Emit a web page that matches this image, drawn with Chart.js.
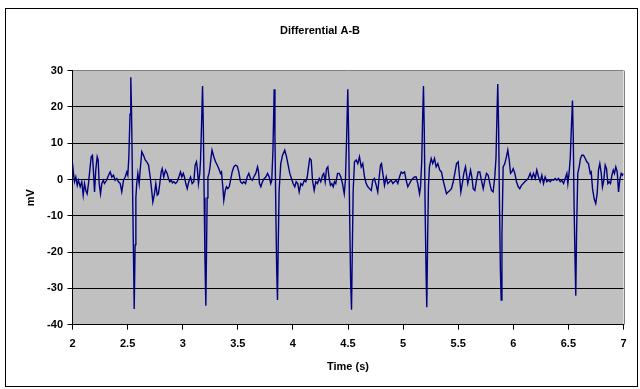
<!DOCTYPE html>
<html>
<head>
<meta charset="utf-8">
<script src="https://cdn.jsdelivr.net/npm/chart.js@4.4.1/dist/chart.umd.min.js"></script>
<style>
  html, body { margin: 0; padding: 0; background: #ffffff; }
  #wrap { width: 640px; height: 389px; position: relative; }
</style>
</head>
<body>
<div id="wrap"><canvas id="c" width="640" height="389"></canvas></div>
<script>
const chartTitle = 'Differential A-B';
const xTitle = 'Time (s)';
const yTitle = 'mV';
const xTicks = [2, 2.5, 3, 3.5, 4, 4.5, 5, 5.5, 6, 6.5, 7];
const yTicks = [-40, -30, -20, -10, 0, 10, 20, 30];

const timeS = [
  2.000,2.009,2.018,2.030,2.043,2.054,2.070,2.084,2.097,2.109,
  2.121,2.133,2.145,2.157,2.170,2.181,2.191,2.200,2.211,2.224,
  2.233,2.242,2.254,2.266,2.279,2.290,2.309,2.327,2.342,2.357,
  2.372,2.387,2.402,2.417,2.433,2.447,2.463,2.478,2.493,2.502,
  2.511,2.522,2.529,2.535,2.544,2.554,2.560,2.568,2.575,2.583,
  2.593,2.605,2.614,2.629,2.644,2.660,2.674,2.690,2.705,2.720,
  2.729,2.744,2.756,2.769,2.780,2.792,2.805,2.814,2.828,2.844,
  2.859,2.871,2.883,2.896,2.907,2.919,2.935,2.950,2.965,2.980,
  2.992,3.005,3.016,3.028,3.041,3.055,3.071,3.086,3.101,3.113,
  3.125,3.134,3.143,3.155,3.162,
  3.171,3.180,3.187,3.195,3.202,3.210,3.216,3.222,3.229,3.239,
  3.248,3.257,3.266,3.282,3.298,3.313,3.328,3.343,3.352,3.364,
  3.373,3.386,3.397,3.409,3.422,3.434,3.449,3.464,3.479,3.495,
  3.509,3.524,3.540,3.554,3.570,3.585,3.600,3.615,3.631,3.645,
  3.663,3.679,3.688,3.697,3.709,3.724,3.740,3.754,3.770,3.785,
  3.799,3.808,
  3.819,3.830,3.837,3.845,3.853,3.860,3.867,3.875,3.890,3.906,
  3.926,3.942,3.957,3.972,3.987,4.002,4.017,4.030,4.044,4.057,
  4.072,4.087,4.103,4.117,4.130,4.142,4.153,4.166,4.178,4.193,
  4.208,4.223,4.239,4.253,4.269,4.280,4.293,4.305,4.317,4.329,
  4.341,4.353,4.366,4.377,4.389,4.405,4.420,4.435,4.450,4.466,
  4.477,4.488,4.498,4.506,4.515,4.524,4.532,4.539,4.547,4.559,
  4.574,4.589,4.604,4.620,4.634,4.650,4.665,4.680,4.695,4.711,
  4.725,4.740,4.756,4.770,4.783,4.795,4.804,4.816,4.831,4.847,
  4.861,4.877,4.892,4.907,4.922,4.937,4.952,4.967,4.983,4.997,
  5.013,5.028,5.043,5.058,5.074,5.088,5.103,5.119,5.133,5.149,
  5.158,
  5.169,5.178,5.185,5.192,5.200,5.208,5.215,5.222,5.230,5.239,
  5.255,5.269,5.285,5.300,5.315,5.333,5.348,5.363,5.378,5.394,
  5.409,5.424,5.439,5.455,5.469,5.485,5.500,5.515,5.524,5.537,
  5.551,5.566,5.575,5.587,5.600,5.612,5.624,5.636,5.651,5.666,
  5.681,5.696,5.711,5.727,5.741,5.757,5.772,5.787,5.802,5.817,
  5.832,
  5.843,5.852,5.859,5.867,5.875,5.883,5.890,5.897,5.908,5.923,
  5.938,5.950,5.963,5.975,5.986,5.999,6.014,6.029,6.045,6.059,
  6.074,6.090,6.104,6.120,6.135,6.153,6.168,6.183,6.199,6.213,
  6.229,6.244,6.259,6.274,6.289,6.304,6.319,6.335,6.349,6.365,
  6.380,6.395,6.410,6.426,6.440,6.456,6.471,6.486,6.495,6.507,
  6.517,6.528,6.537,6.544,6.552,6.560,6.567,6.574,6.585,6.598,
  6.610,6.622,6.637,6.653,6.667,6.682,6.698,6.707,6.719,6.734,
  6.748,6.761,6.773,6.785,6.798,6.809,6.821,6.834,6.846,6.858,
  6.870,6.882,6.895,6.907,6.918,6.930,6.943,6.955,6.966,6.979,
  6.991,7.000
];

const mV = [
  4.4,1.7,-0.6,0.7,-1.6,-0.2,-2.0,-0.6,-4.3,-1.1,
  -3.0,-3.9,-1.1,2.6,6.3,6.7,1.7,-3.4,2.6,6.3,
  5.4,-1.1,-3.9,-1.1,-0.2,-1.1,-0.2,1.2,2.1,0.7,
  1.2,-0.2,0.3,-0.6,-1.1,-3.4,-0.2,0.7,2.1,1.2,
  6,18,28.2,20,0,-22,-35.7,-18,-5,-1.1,
  1.7,-1.1,2.6,7.7,6.7,5.4,4.9,4.0,0.7,-3.4,
  -6.2,-3.9,-1.1,-4.3,-3.9,-1.1,2.1,3.0,0.7,2.6,
  1.7,0.3,-0.6,-0.2,-0.9,-0.6,-1.1,-0.6,0.7,2.1,
  0.7,1.7,0.7,-1.1,-2.5,-0.6,0.7,-1.1,-0.6,4.0,
  4.9,2.6,-1.1,1.7,5.4,
  15,25.8,15,-5,-22,-34.8,-20,-5,0.7,1.7,
  3.5,6,8.1,6.3,4.9,4.0,3.0,1.7,2.1,-2.0,
  -5.7,-3.0,-2.0,-2.5,-2.0,-0.2,2.1,3.5,4.0,3.7,
  2.1,-0.6,-1.1,-0.6,-1.1,0.7,1.7,0.3,-0.2,0.7,
  1.7,3.5,2.1,-1.1,-2.0,-0.6,0.3,0.7,1.7,0.7,
  -1.1,-0.2,
  8,24.9,12,-8,-25,-33.2,-18,-3,4.4,6.7,
  8.1,6.3,4.0,1.7,0.3,-1.1,-2.0,-0.6,-1.1,-3.4,
  -1.1,-1.6,-0.2,-0.6,0.7,3.5,5.8,5.4,-0.2,-3.0,
  -0.6,-1.1,0.3,-0.6,1.2,1.7,-0.6,3.0,3.5,0.3,
  -1.6,-1.1,-2.0,-0.6,-1.1,1.7,1.7,0.7,-1.1,-3.9,
  0,12,24.9,12,-10,-28,-35.9,-20,-3,4.9,
  5.4,4.4,6.3,3.5,4.4,0.7,-1.1,-2.0,-2.5,-3.0,
  -0.2,0.3,-1.6,-3.4,0.7,4.0,4.4,1.7,-1.6,0.7,
  -1.1,-0.6,-0.2,-1.1,-0.6,-0.2,-1.1,0.7,2.1,1.7,
  2.1,-0.2,-2.0,-1.1,-0.2,0.3,0.7,0.7,-1.1,-3.9,
  -2.0,
  5,18,25.8,14,-8,-25,-35.2,-18,-2,3.5,
  5.8,4.4,5.8,3.5,4.4,2.6,2.1,-0.2,-2.0,-3.9,
  -3.4,-3.0,-2.5,-0.6,1.7,4.4,4.9,-0.2,-3.4,-1.1,
  1.7,3.5,1.7,-1.1,0.7,2.6,0.7,-2.5,-3.0,-0.2,
  2.1,2.1,-0.2,-2.5,-0.2,1.7,1.2,-1.1,-3.0,-3.4,
  0.7,
  6,18,26.3,14,-8,-25,-33.2,-15,3.5,4.4,
  6.3,8.1,5.4,1.7,2.1,3.0,1.7,-0.6,-2.0,-2.5,
  -1.6,-1.1,-0.6,-0.2,0.3,1.7,0.3,1.7,0.3,2.6,
  0.7,-0.6,1.2,-1.1,0.7,-0.6,-0.2,-0.6,0,-0.2,
  0.3,-0.2,0.3,-0.6,-0.2,-1.1,0.3,1.7,-1.1,2.1,
  6,15,21.8,12,-8,-22,-32.0,-15,1.7,3.5,
  5.8,6.7,6.7,5.8,4.9,4.4,1.7,2.1,-2.5,-5.3,
  -6.6,-3.9,2.6,4.4,1.7,-2.0,-0.2,4.0,3.0,-1.1,
  -0.6,-1.1,1.2,2.6,1.7,3.5,2.1,-3.4,-0.2,1.7,
  1.2,1.7
];

const n = Math.min(timeS.length, mV.length);
const points = [];
for (let i = 0; i < n; i++) points.push({ x: timeS[i], y: mV[i] });

const FONT = "'Liberation Sans', Arial, sans-serif";

const frame = {
  id: 'frame',
  beforeDraw(chart) {
    const { ctx, chartArea: a } = chart;
    ctx.save();
    ctx.fillStyle = '#ffffff';
    ctx.fillRect(0, 0, chart.width, chart.height);
    ctx.fillStyle = '#c0c0c0';
    ctx.fillRect(a.left, a.top, a.right - a.left, a.bottom - a.top);
    ctx.restore();
  },
  beforeDatasetsDraw(chart) {
    const { ctx, chartArea: a } = chart;
    ctx.save();
    ctx.strokeStyle = '#808080';
    ctx.lineWidth = 1;
    ctx.beginPath();
    ctx.moveTo(Math.round(a.right) + 0.5, a.top);
    ctx.lineTo(Math.round(a.right) + 0.5, a.bottom);
    ctx.stroke();
    ctx.restore();
  },
  afterDraw(chart) {
    const { ctx } = chart;
    ctx.save();
    ctx.strokeStyle = '#000000';
    ctx.lineWidth = 1;
    ctx.strokeRect(5.5, 8.5, 632, 378);
    ctx.restore();
  }
};

new Chart(document.getElementById('c'), {
  type: 'line',
  data: {
    datasets: [{
      data: points,
      borderColor: '#000080',
      borderWidth: 1.4,
      pointRadius: 0,
      tension: 0,
      fill: false
    }]
  },
  options: {
    responsive: false,
    animation: false,
    events: [],
    layout: { padding: { left: 0, right: 0, top: 0, bottom: 0 } },
    plugins: {
      legend: { display: false },
      tooltip: { enabled: false },
      title: {
        display: true,
        text: chartTitle,
        color: '#000000',
        font: { family: FONT, size: 11, weight: 'bold' },
        padding: { top: 24, bottom: 33.5 }
      }
    },
    scales: {
      x: {
        type: 'linear',
        min: xTicks[0],
        max: xTicks[xTicks.length - 1],
        afterBuildTicks(s) { s.ticks = xTicks.map(v => ({ value: v })); },
        afterFit(s) { s.height = 64.3; },
        grid: { display: true, drawOnChartArea: false, drawTicks: true, tickLength: 5, color: '#000000' },
        border: { display: true, color: '#000000', width: 1 },
        ticks: {
          color: '#000000',
          font: { family: FONT, size: 11, weight: 'bold' },
          padding: 8,
          maxRotation: 0,
          autoSkip: false,
          callback: v => String(v)
        },
        title: {
          display: true,
          text: xTitle,
          color: '#000000',
          font: { family: FONT, size: 11, weight: 'bold' },
          padding: { top: 0, bottom: 15.4 }
        }
      },
      y: {
        type: 'linear',
        position: 'left',
        min: yTicks[0],
        max: yTicks[yTicks.length - 1],
        afterBuildTicks(s) { s.ticks = yTicks.map(v => ({ value: v })); },
        afterFit(s) { s.width = 72.5; },
        grid: {
          display: true,
          drawOnChartArea: true,
          drawTicks: true,
          tickLength: 5,
          color: c => (c.tick && c.tick.value === 30) ? '#808080' : '#000000',
          tickColor: '#000000'
        },
        border: { display: true, color: '#000000', width: 1 },
        ticks: {
          color: '#000000',
          font: { family: FONT, size: 11, weight: 'bold' },
          padding: 4.5,
          autoSkip: false,
          callback: v => String(v)
        },
        title: {
          display: true,
          text: yTitle,
          color: '#000000',
          font: { family: FONT, size: 11, weight: 'bold' },
          padding: { top: 24.4, bottom: 0 }
        }
      },
      yR: {
        type: 'linear',
        position: 'right',
        display: true,
        afterFit(s) { s.width = 16.5; },
        grid: { display: false, drawTicks: false },
        border: { display: false },
        ticks: { display: false }
      }
    }
  },
  plugins: [frame]
});
</script>
</body>
</html>
